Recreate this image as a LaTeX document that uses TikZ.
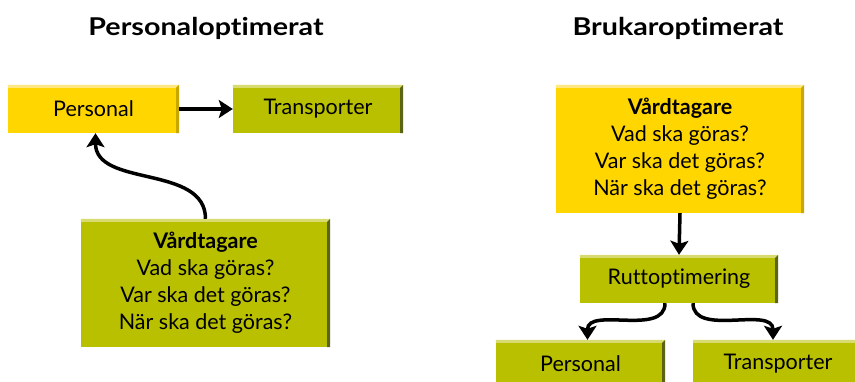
\documentclass[tikz,border=0pt]{standalone}
\usepackage{fontspec}
\setmainfont{Lato}[Ligatures=NoCommon]
\newfontfamily\titlefont{Lato}[Ligatures=NoCommon,FakeStretch=1.17]
\usetikzlibrary{arrows.meta}
\definecolor{ylw}{RGB}{255,214,0}
\definecolor{ylwlight}{RGB}{255,232,130}
\definecolor{ylwdark}{RGB}{200,168,0}
\definecolor{olv}{RGB}{185,192,0}
\definecolor{olvlight}{RGB}{216,220,112}
\definecolor{olvdark}{RGB}{90,100,20}
\newcommand\boxbevel[3]{%
  \fill[#2] (#1.north west) -- (#1.north east) -- ([xshift=-3pt,yshift=-3pt]#1.north east) -- ([yshift=-3pt]#1.north west) -- cycle;
  \fill[#3] (#1.north east) -- (#1.south east) -- ([xshift=-3pt]#1.south east) -- ([xshift=-3pt,yshift=-3pt]#1.north east) -- cycle;}
\tikzset{
  boxbase/.style={inner sep=0pt, font=\fontsize{21.5}{27}\selectfont, align=center, text=black},
  ybox/.style={boxbase, fill=ylw},
  obox/.style={boxbase, fill=olv},
  conn/.style={line width=3.5pt, -{Stealth[length=14pt,width=18pt,inset=3pt]}},
  title/.style={font=\titlefont\fontsize{24.5}{30}\selectfont\bfseries, inner sep=0pt}
}
\begin{document}
\begin{tikzpicture}[x=1pt,y=-1pt]
\clip (0,0) rectangle (855,382);
\fill[white] (0,0) rectangle (855,382);
% titles
\node[title] (t1) at (206,28) {Personaloptimerat};
\node[title] (t2) at (678,28) {Brukaroptimerat};
% left
\node[ybox, minimum width=171pt, minimum height=48pt] (p1) at (93.5,109) {Personal};
\node[obox, minimum width=170pt, minimum height=48pt] (tr1) at (318,109) {Transporter};
\node[obox, minimum width=249pt, minimum height=128pt] (vt1) at (205.5,283)
  {\textbf{Vårdtagare}\\Vad ska göras?\\Var ska det göras?\\När ska det göras?};
\boxbevel{p1}{ylwlight}{ylwdark}
\boxbevel{tr1}{olvlight}{olvdark}
\boxbevel{vt1}{olvlight}{olvdark}
\draw[conn] (p1.east) -- (tr1.west);
\draw[conn] (vt1.north) to[out=90,in=-90] ([xshift=2pt]p1.south);
% right
\node[ybox, minimum width=248pt, minimum height=128pt] (vt2) at (680,149)
  {\textbf{Vårdtagare}\\Vad ska göras?\\Var ska det göras?\\När ska det göras?};
\node[obox, minimum width=198pt, minimum height=48pt] (ro) at (679,279) {Ruttoptimering};
\node[obox, minimum width=169pt, minimum height=48pt] (p2) at (580.5,364) {Personal};
\node[obox, minimum width=170pt, minimum height=48pt] (tr2) at (778,364) {Transporter};
\boxbevel{vt2}{ylwlight}{ylwdark}
\boxbevel{ro}{olvlight}{olvdark}
\boxbevel{p2}{olvlight}{olvdark}
\boxbevel{tr2}{olvlight}{olvdark}
\draw[conn] (vt2.south) -- (ro.north);
\draw[conn] ([xshift=-14pt]ro.south) to[out=-90,in=90] ([xshift=7pt]p2.north);
\draw[conn] ([xshift=14pt]ro.south) to[out=-90,in=90] ([xshift=-5pt]tr2.north);
\end{tikzpicture}
\end{document}
